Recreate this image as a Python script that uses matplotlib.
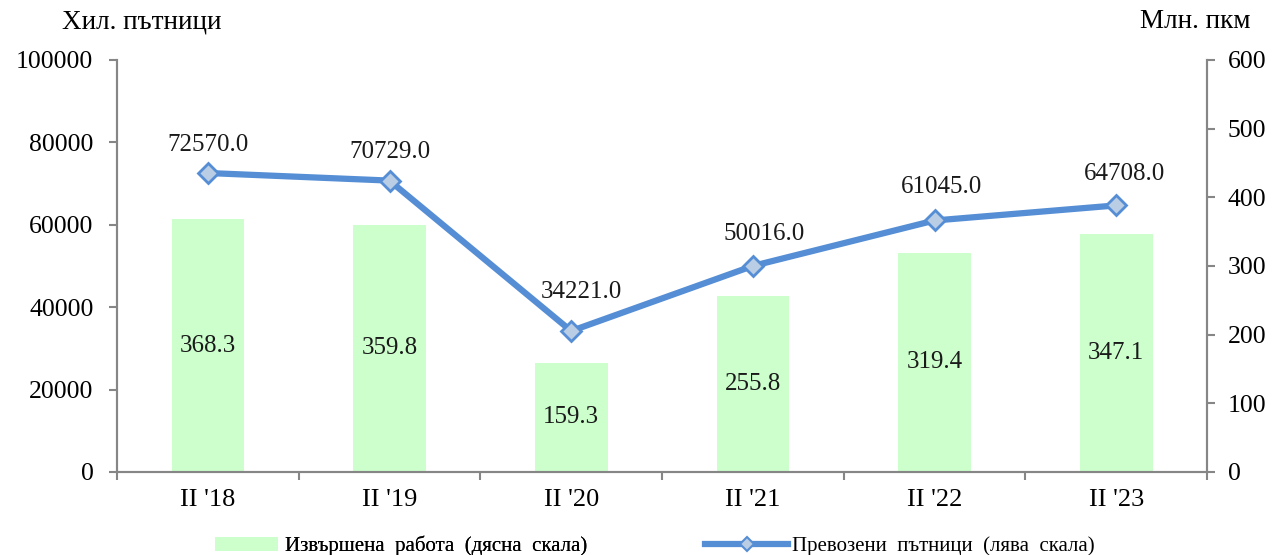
import matplotlib
matplotlib.use("Agg")
import matplotlib.pyplot as plt
import numpy as np
from matplotlib.lines import Line2D
from matplotlib.patches import Patch

categories = ["II '18", "II '19", "II '20", "II '21", "II '22", "II '23"]
work = [368.3, 359.8, 159.3, 255.8, 319.4, 347.1]
passengers = [72570.0, 70729.0, 34221.0, 50016.0, 61045.0, 64708.0]

# label nudges (points), style only
label_dx = [0, 0, 7, 8, 5, 6]
label_dy = [12, 12.5, 20, 15, 16, 15]

plt.rcParams['font.family'] = ['Liberation Serif', 'DejaVu Serif']

W, H = 1276, 555
fig = plt.figure(figsize=(W/100, H/100), dpi=100)
ax = fig.add_axes([117/W, 1-472/H, 1090/W, 412/H])
ax2 = ax.twinx()
ax.set_zorder(2)
ax.patch.set_visible(False)

x = np.arange(len(categories))
grey = '#868686'

ax2.bar(x, work, width=0.4, color='#CCFFCC', zorder=1)
for xi, v in zip(x, work):
    ax2.text(xi, v/2, f"{v:.1f}", ha='center', va='center', fontsize=18, color='#1a1a1a')

ax.plot(x, passengers, color='#558ED5', lw=4.5, marker='D', ms=10,
        mfc='#B9CDE5', mec='#558ED5', mew=2, zorder=5)
for xi, v, dx, dy in zip(x, passengers, label_dx, label_dy):
    ax.annotate(f"{v:.1f}", (xi, v), xytext=(dx, dy), textcoords='offset points',
                ha='center', va='bottom', fontsize=18, color='#1a1a1a')

ax.set_xlim(-0.5, 5.5)
ax.set_ylim(0, 100000)
ax.set_yticks(np.arange(0, 100001, 20000))
ax2.set_ylim(0, 600)
ax2.set_yticks(np.arange(0, 601, 100))

ax.set_xticks(x)
ax.set_xticklabels(categories, fontsize=19)
ax.set_xticks(np.arange(-0.5, 5.6, 1), minor=True)
ax.tick_params(axis='x', which='major', length=0, pad=12)
ax.tick_params(axis='x', which='minor', length=6, width=1.5, color=grey, direction='out')
ax.tick_params(axis='y', labelsize=18.5, length=6, width=1.5, color=grey, pad=11)
ax2.tick_params(axis='y', labelsize=18.5, length=6, width=1.5, color=grey, pad=9)

for a in (ax, ax2):
    a.spines['top'].set_visible(False)
    for s in ('left', 'right', 'bottom'):
        a.spines[s].set_color(grey)
        a.spines[s].set_linewidth(1.5)

fig.text(62/W, 1-22/H, "Хил. пътници", fontsize=19.5, va='center', ha='left')
fig.text(1140/W, 1-22/H, "Млн. пкм", fontsize=19.5, va='center', ha='left')

h1 = Patch(facecolor='#CCFFCC', edgecolor='none')
h2 = Line2D([0], [0], color='#558ED5', lw=4.5, marker='D', ms=7,
            mfc='#B9CDE5', mec='#558ED5', mew=1.5)
leg1 = fig.legend([h1], ["Извършена  работа  (дясна  скала)"], loc='center left',
                  bbox_to_anchor=(215/W, 1-546/H), frameon=False, fontsize=15,
                  handlelength=3.0, handletextpad=0.35, borderpad=0, borderaxespad=0)
leg2 = fig.legend([h2], ["Превозени  пътници  (лява  скала)"], loc='center left',
                  bbox_to_anchor=(705/W, 1-546/H), frameon=False, fontsize=15,
                  handlelength=4.0, handletextpad=0.2, borderpad=0, borderaxespad=0)
fig.add_artist(leg1)

fig.savefig('out.png', dpi=100)
